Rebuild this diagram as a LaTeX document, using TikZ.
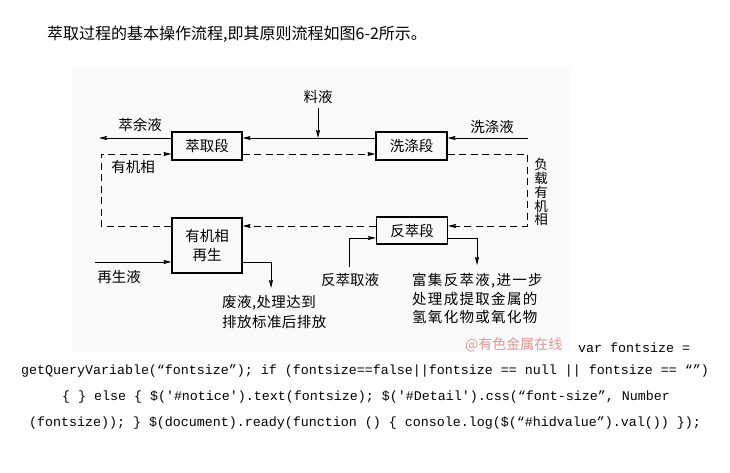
\documentclass[tikz,border=0pt]{standalone}
\usepackage{fontspec}
\setmainfont{Noto Sans CJK SC}
\newfontfamily\codefont{Liberation Mono}
\usetikzlibrary{arrows.meta}
\definecolor{wm}{RGB}{226,150,150}
\definecolor{figbg}{RGB}{250,250,250}
\begin{document}
\begin{tikzpicture}[x=1pt,y=-1pt,
  box/.style={draw,line width=1.1pt,minimum width=70pt,inner sep=0pt,font=\fontsize{14.5}{19}\selectfont,align=center},
  lab/.style={inner sep=0pt,font=\fontsize{14.5}{18.5}\selectfont},
  arr/.style={line width=0.8pt,-{Stealth[length=8pt,width=4pt,inset=1pt]}},
  darr/.style={arr,dash pattern=on 7pt off 4.5pt},
  dln/.style={line width=0.8pt,dash pattern=on 7pt off 4.5pt},
  code/.style={inner sep=0pt,font=\codefont\fontsize{13.33}{16}\selectfont},
]
\useasboundingbox (0,0) rectangle (730,473);
\fill[white] (0,0) rectangle (730,473);
\fill[figbg] (72,67) rectangle (570,352);

% header
\node[anchor=west,inner sep=0pt,font=\fontsize{16}{16}\selectfont] (hdr) at (47,34) {萃取过程的基本操作流程,即其原则流程如图6-2所示。};

% boxes
\node[box,minimum height=28pt] (ext) at (207,146) {萃取段};
\node[box,minimum height=28pt,minimum width=71pt] (wash) at (411.5,146) {洗涤段};
\node[box,minimum height=27pt,minimum width=71pt] (strip) at (412,230.5) {反萃段};
\node[box,minimum height=55pt] (regen) at (207,245.5) {有机相\\再生};

% labels
\node[lab] (feed) at (318,97) {料液};
\node[lab] (raffl) at (140,125) {萃余液};
\node[lab] (washl) at (492,127) {洗涤液};
\node[lab] (orgl) at (133,167) {有机相};
\node[lab,align=center,font=\fontsize{13.5}{13.9}\selectfont] (load) at (541,192) {负\\载\\有\\机\\相};
\node[lab] (regl) at (119,277) {再生液};
\node[lab,anchor=west,align=left,font=\fontsize{14.5}{20}\selectfont\addfontfeature{LetterSpace=3}] (wastel) at (222,312) {废液,处理达到\\排放标准后排放};
\node[lab] (stripl) at (350,280) {反萃取液};
\node[lab,anchor=west,align=left,font=\fontsize{14.5}{18.5}\selectfont\addfontfeature{LetterSpace=9}] (richl) at (412,298.5) {富集反萃液,进一步\\处理成提取金属的\\氢氧化物或氧化物};

% coordinates
\coordinate (feedtop) at (318,108);
\coordinate (feedj) at (318,138);
\coordinate (raffend) at (99,138);
\coordinate (washin) at (528,138);
\coordinate (c1) at (527,154);
\coordinate (c2) at (527,226);
\coordinate (c3) at (101,226);
\coordinate (c4) at (101,154);
\coordinate (regin) at (95,262);
\coordinate (w1) at (271,262);
\coordinate (w2) at (271,288);
\coordinate (s0) at (349,267);
\coordinate (s1) at (349,238);
\coordinate (r1) at (477,238);
\coordinate (r2) at (477,265);

% solid flows
\draw[arr] (feedtop) -- (feedj);
\draw[arr] ([yshift=8pt]wash.west) -- ([yshift=8pt]ext.east);
\draw[arr] ([yshift=8pt]ext.west) -- (raffend);
\draw[arr] (washin) -- ([yshift=8pt]wash.east);
\draw[arr] (regin) -- ([yshift=-16.5pt]regen.west);
\draw[arr] ([yshift=-16.5pt]regen.east) -- (w1) -- (w2);
\draw[arr] (s0) -- (s1) -- ([yshift=-7.5pt]strip.west);
\draw[arr] ([yshift=-7.5pt]strip.east) -- (r1) -- (r2);

% dashed organic loop
\draw[darr] ([yshift=-8pt]ext.east) -- ([yshift=-8pt]wash.west);
\draw[darr] ([yshift=-8pt]wash.east) -- (c1) -- (c2) -- ([yshift=4.5pt]strip.east);
\draw[darr] ([yshift=4.5pt]strip.west) -- ([yshift=19.5pt]regen.east);
\draw[darr] ([yshift=19.5pt]regen.west) -- (c3) -- (c4) -- ([yshift=-8pt]ext.west);

% watermark and code text
\node[anchor=west,inner sep=0pt,font=\fontsize{14}{14}\selectfont,text=wm] (wmk) at (465,345) {@有色金属在线};
\node[code,anchor=west] (code1) at (578,348) {var fontsize =};
\node[code] (code2) at (365,371) {getQueryVariable(“fontsize”); if (fontsize==false||fontsize == null || fontsize == “”)};
\node[code] (code3) at (366,397) {\{ \} else \{ \$('\#notice').text(fontsize); \$('\#Detail').css(“font-size”, Number};
\node[code] (code4) at (365,423) {(fontsize)); \} \$(document).ready(function () \{ console.log(\$(“\#hidvalue”).val()) \});};
\end{tikzpicture}
\end{document}
